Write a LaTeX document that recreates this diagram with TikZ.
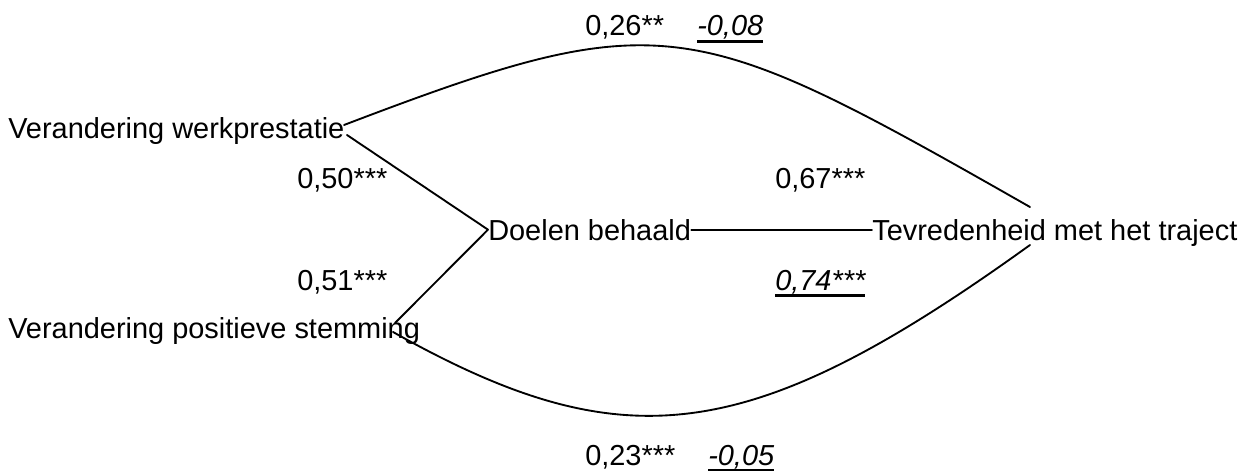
\documentclass[tikz,border=0pt]{standalone}
\usepackage{fontspec}
\setmainfont{Liberation Sans}
\newcommand{\myul}[1]{\setbox0\hbox{#1}\rlap{\raisebox{-5.2pt}{\rule{\wd0}{2.2pt}}}\box0}
\begin{document}
\begin{tikzpicture}[x=0.75pt,y=-0.75pt,
  lbl/.style={anchor=base west,inner sep=0pt,font=\fontsize{21.7pt}{26pt}\selectfont},
  conn/.style={line width=1.4pt,line join=round,line cap=round}]
\useasboundingbox (0,0) rectangle (1258,471);
% variables
\node[lbl] (vw) at (8,138) {Verandering werkprestatie};
\node[lbl] (vp) at (8,338) {Verandering positieve stemming};
\node[lbl] (db) at (488,240) {Doelen behaald};
\node[lbl] (tv) at (872,240) {Tevredenheid met het traject};
% coefficients
\node[lbl] (c26) at (585,36) {0,26**};
\node[lbl] (c08) at (697,36) {\myul{\itshape -0,08}};
\node[lbl] (c50) at (297,188) {0,50***};
\node[lbl] (c51) at (297,290) {0,51***};
\node[lbl] (c67) at (775,188) {0,67***};
\node[lbl] (c74) at (775,290) {\myul{\itshape 0,74***}};
\node[lbl] (c23) at (585,465) {0,23***};
\node[lbl] (c05) at (708,465) {\myul{\itshape -0,05}};
% connector ends
\coordinate (vwA) at (344,125);
\coordinate (vwB) at (347,135);
\coordinate (vpA) at (395,323);
\coordinate (vpB) at (393,332);
\coordinate (tvA) at (1030,207);
\coordinate (tvB) at (1030,245);
% connectors
\draw[conn] (vwA) .. controls (664,3) and (691,14) .. (tvA);
\draw[conn] (vwB) -- (db.west) -- (vpA);
\draw[conn] (db.east) -- (db.east -| tv.west);
\draw[conn] (vpB) .. controls (623,461) and (748,448) .. (tvB);
\end{tikzpicture}
\end{document}
